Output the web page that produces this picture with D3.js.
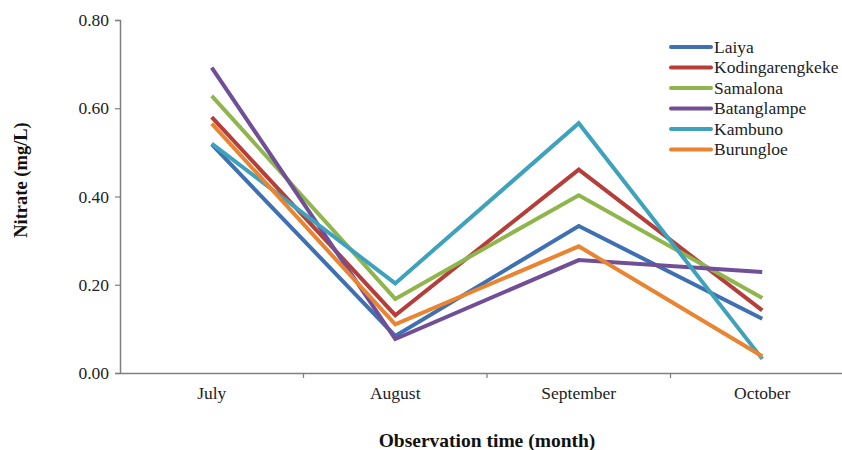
<!DOCTYPE html>
<html>
<head>
<meta charset="utf-8">
<script src="https://cdn.jsdelivr.net/npm/d3@7"></script>
<style>
  body { margin: 0; background: #fff; }
  svg { display: block; font-family: "Liberation Serif", "Times New Roman", serif; }
</style>
</head>
<body>
<svg width="842" height="450"></svg>
<script>
// Data.
const months = ['July', 'August', 'September', 'October'];
const sites = ['Laiya', 'Kodingarengkeke', 'Samalona', 'Batanglampe', 'Kambuno', 'Burungloe'];
const laiya = [0.518, 0.084, 0.333, 0.123];
const kodingarengkeke = [0.580, 0.131, 0.461, 0.142];
const samalona = [0.628, 0.168, 0.403, 0.170];
const batanglampe = [0.692, 0.077, 0.256, 0.229];
const kambuno = [0.520, 0.203, 0.566, 0.032];
const burungloe = [0.565, 0.110, 0.287, 0.038];
const yTicks = [0, 0.2, 0.4, 0.6, 0.8];
const colours = ['#3e70b2', '#b63e3a', '#8fb64c', '#714f96', '#3ea2bd', '#ea8431'];

const series = [laiya, kodingarengkeke, samalona, batanglampe, kambuno, burungloe]
  .map((values, i) => ({ name: sites[i], values: values }));

// 1. Dimensions.
const margin = { top: 20, left: 120 };
const plotW = 734;
const plotH = 353;

const svg = d3.select('svg');

// 2. Scales.
const xScale = d3
  .scaleBand()
  .domain(months)
  .range([margin.left, margin.left + plotW]);

const yScale = d3
  .scaleLinear()
  .domain([0, 0.8])
  .range([margin.top + plotH, margin.top]);

const colScale = d3.scaleOrdinal().domain(sites).range(colours);

// 3. Axes.
const yAxis = svg.append('g')
  .attr('transform', `translate(${margin.left},0)`)
  .call(d3.axisLeft(yScale).tickValues(yTicks).tickFormat(d3.format('.2f')).tickSize(5).tickPadding(6));

const xAxis = svg.append('g')
  .attr('transform', `translate(0,${margin.top + plotH})`)
  .call(d3.axisBottom(xScale).tickSize(0).tickPadding(14));

// Excel-style ticks between categories.
xAxis.selectAll('.between')
  .data(months.slice(1))
  .enter()
  .append('line')
  .attr('x1', d => xScale(d))
  .attr('x2', d => xScale(d))
  .attr('y1', 0)
  .attr('y2', 5);

[yAxis, xAxis].forEach(g => {
  g.select('.domain').attr('stroke', '#7f7f7f').attr('stroke-width', 1.5);
  g.selectAll('line').attr('stroke', '#7f7f7f').attr('stroke-width', 1.2);
  g.selectAll('text')
    .attr('font-family', '"Liberation Serif", serif')
    .attr('font-size', 17.5)
    .attr('fill', '#222');
});

// Axis titles.
svg.append('text')
  .attr('transform', 'translate(27,180) rotate(-90)')
  .attr('text-anchor', 'middle')
  .attr('font-weight', 'bold')
  .attr('font-size', 18.5)
  .attr('fill', '#111')
  .text('Nitrate (mg/L)');

svg.append('text')
  .attr('x', margin.left + plotW / 2)
  .attr('y', 447)
  .attr('text-anchor', 'middle')
  .attr('font-weight', 'bold')
  .attr('font-size', 19.5)
  .attr('fill', '#111')
  .text('Observation time (month)');

// 4. Lines.
const line = d3.line()
  .x((d, i) => xScale(months[i]) + xScale.bandwidth() / 2)
  .y(d => yScale(d));

svg.selectAll('path.series')
  .data(series)
  .enter()
  .append('path')
  .attr('class', 'series')
  .attr('fill', 'none')
  .attr('stroke', d => colScale(d.name))
  .attr('stroke-width', 4)
  .attr('stroke-linejoin', 'miter')
  .attr('d', d => line(d.values));

// 5. Legend.
const legend = svg.selectAll('g.legend')
  .data(sites)
  .enter()
  .append('g')
  .attr('class', 'legend')
  .attr('transform', (d, i) => `translate(671,${47 + i * 20.5})`);

legend.append('line')
  .attr('x1', 0)
  .attr('x2', 40)
  .attr('stroke', d => colScale(d))
  .attr('stroke-width', 4)
  .attr('stroke-linecap', 'round');

legend.append('text')
  .attr('x', 43)
  .attr('dy', '0.33em')
  .attr('font-size', 17.5)
  .attr('fill', '#222')
  .text(d => d);
</script>
</body>
</html>
